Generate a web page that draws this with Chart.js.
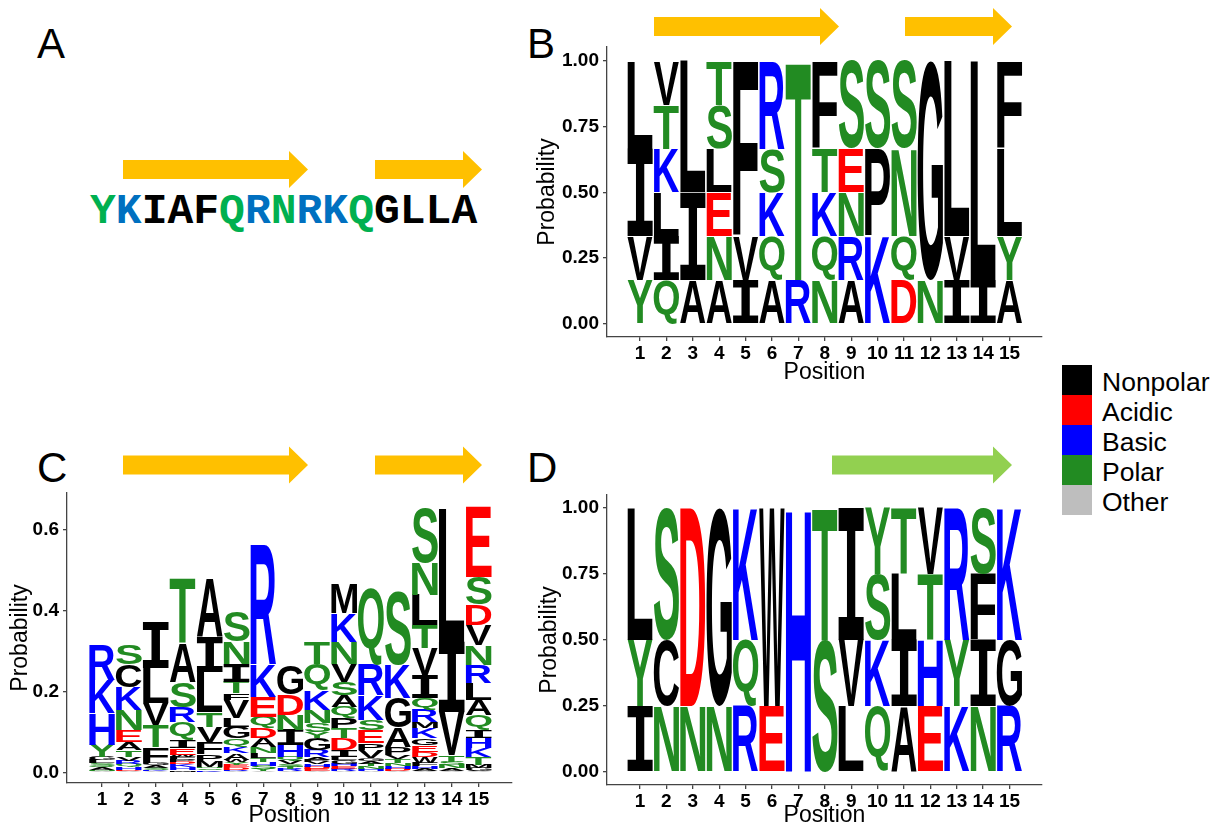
<!DOCTYPE html>
<html>
<head>
<meta charset="utf-8">
<title>Sequence logos</title>
<script src="https://cdn.jsdelivr.net/npm/chart.js@4.4.1/dist/chart.umd.min.js"></script>
<style>
  html, body { margin: 0; padding: 0; background: #fff; overflow: hidden; }
  #page { position: relative; width: 1212px; height: 826px; }
  #page canvas { position: absolute; }
  #overlay { position: absolute; left: 0; top: 0; }
</style>
</head>
<body>
<div id="page">
  <svg id="overlay" width="1212" height="826" xmlns="http://www.w3.org/2000/svg"></svg>
  <canvas id="logoB" width="540" height="400" style="left:520px;top:0px;width:540px;height:400px"></canvas>
  <canvas id="logoC" width="540" height="400" style="left:0px;top:450px;width:540px;height:400px"></canvas>
  <canvas id="logoD" width="540" height="400" style="left:520px;top:450px;width:540px;height:400px"></canvas>
</div>
<script>
// positions along the peptide
const positions = [1, 2, 3, 4, 5, 6, 7, 8, 9, 10, 11, 12, 13, 14, 15];

// residue groups and their colours
const groupNames = ['Nonpolar', 'Acidic', 'Basic', 'Polar', 'Other'];
const groupColors = ['#000000', '#FF0000', '#0000FF', '#228B22', '#BEBEBE'];
const groupResidues = ['AVLIPFMWGC', 'DE', 'KRH', 'STYNQ', 'X'];

// consensus sequence shown above the logos
const sequence = 'YKIAFQRNRKQGLLA';
const sequenceColors = ['#00B050', '#0070C0', '#000', '#000', '#000', '#00B050', '#0070C0',
  '#00B050', '#0070C0', '#0070C0', '#00B050', '#000', '#000', '#000', '#000'];

// logo B: letters per position, bottom to top, and their probabilities
const lettersB = ['YVIL', 'QILKTV', 'AIL', 'ANELST', 'IVF', 'AQKSR', 'RT', 'NQKTF',
  'ARNES', 'KPS', 'DQNS', 'NG', 'IVL', 'IL', 'AYLF'];
const probsB = [
  [0.1667, 0.1667, 0.3333, 0.3333],
  [0.1667, 0.1667, 0.1667, 0.1667, 0.1667, 0.1667],
  [0.1667, 0.3333, 0.5],
  [0.1667, 0.1667, 0.1667, 0.1667, 0.1667, 0.1667],
  [0.1667, 0.1667, 0.6667],
  [0.1667, 0.1667, 0.1667, 0.1667, 0.3333],
  [0.1667, 0.8333],
  [0.1667, 0.1667, 0.1667, 0.1667, 0.3333],
  [0.1667, 0.1667, 0.1667, 0.1667, 0.3333],
  [0.3333, 0.3333, 0.3333],
  [0.1667, 0.1667, 0.3333, 0.3333],
  [0.1667, 0.8333],
  [0.1667, 0.1667, 0.6667],
  [0.1667, 0.8333],
  [0.1667, 0.1667, 0.3333, 0.3333]
];

// logo C
const lettersC = ['XNAQSLGYHKR', 'XDHQRVTAENKCS', 'XKSAGFTVLI', 'XMHKDPFWEIQRSAT',
  'XKSNMPFVTLIA', 'XRDEYWAKQGLVFTINS', 'XYSHTLNADQEKR', 'XRTSVQHINDG',
  'XEDHVPARGYSNKQT', 'XREHGLIDTPQASVNKM', 'XHNTAGVPESKRQ', 'XDHNTVPAGKS',
  'XAHFWDEGKMRQIVTLNS', 'XANSTVIL', 'XGMTKHIQALRNVDSE'];
const probsC = [
  [0.004, 0.004, 0.005, 0.005, 0.006, 0.008, 0.008, 0.03, 0.078, 0.082, 0.086],
  [0.004, 0.004, 0.006, 0.008, 0.008, 0.01, 0.017, 0.02, 0.029, 0.05, 0.056, 0.055, 0.049],
  [0.004, 0.004, 0.005, 0.006, 0.006, 0.039, 0.055, 0.054, 0.086, 0.111],
  [0.003, 0.004, 0.007, 0.007, 0.006, 0.006, 0.006, 0.006, 0.017, 0.02, 0.043, 0.038, 0.062, 0.095, 0.16],
  [0.003, 0.004, 0.004, 0.004, 0.015, 0.015, 0.03, 0.039, 0.036, 0.10, 0.086, 0.144],
  [0.004, 0.004, 0.006, 0.006, 0.006, 0.006, 0.017, 0.015, 0.022, 0.028, 0.022, 0.044, 0.017, 0.028, 0.045, 0.054, 0.076],
  [0.004, 0.006, 0.008, 0.009, 0.01, 0.012, 0.015, 0.022, 0.025, 0.027, 0.05, 0.081, 0.294],
  [0.004, 0.005, 0.006, 0.007, 0.008, 0.01, 0.029, 0.037, 0.037, 0.05, 0.07],
  [0.004, 0.005, 0.006, 0.006, 0.006, 0.006, 0.006, 0.018, 0.029, 0.014, 0.023, 0.033, 0.049, 0.065, 0.054],
  [0.004, 0.006, 0.006, 0.007, 0.008, 0.009, 0.017, 0.029, 0.025, 0.025, 0.027, 0.03, 0.032, 0.045, 0.054, 0.071, 0.074],
  [0.004, 0.006, 0.006, 0.007, 0.007, 0.007, 0.02, 0.017, 0.032, 0.025, 0.062, 0.074, 0.188],
  [0.004, 0.006, 0.007, 0.007, 0.01, 0.01, 0.02, 0.047, 0.074, 0.082, 0.183],
  [0.004, 0.006, 0.007, 0.008, 0.015, 0.012, 0.017, 0.017, 0.025, 0.015, 0.03, 0.029, 0.057, 0.067, 0.056, 0.075, 0.079, 0.135],
  [0.004, 0.007, 0.008, 0.008, 0.017, 0.107, 0.173, 0.33],
  [0.004, 0.008, 0.008, 0.02, 0.022, 0.024, 0.02, 0.037, 0.037, 0.042, 0.045, 0.049, 0.049, 0.05, 0.069, 0.173]
];

// logo D
const lettersD = ['IYL', 'NCS', 'ND', 'NG', 'RQK', 'EW', 'H', 'ST', 'LVI', 'QKSY',
  'AILT', 'EHTV', 'KYR', 'NIFS', 'RGK'];
const probsD = [
  [0.25, 0.25, 0.5],
  [0.25, 0.25, 0.5],
  [0.25, 0.75],
  [0.25, 0.75],
  [0.25, 0.25, 0.5],
  [0.25, 0.75],
  [1.0],
  [0.5, 0.5],
  [0.25, 0.25, 0.5],
  [0.25, 0.25, 0.25, 0.25],
  [0.25, 0.25, 0.25, 0.25],
  [0.25, 0.25, 0.25, 0.25],
  [0.25, 0.25, 0.5],
  [0.25, 0.25, 0.25, 0.25],
  [0.25, 0.25, 0.5]
];

const residueColor = {};
groupResidues.forEach((res, g) => { for (const ch of res) residueColor[ch] = groupColors[g]; });

// ---- overlay: panel tags, arrows, sequence, legend ----
const svgNS = 'http://www.w3.org/2000/svg';
const svg = document.getElementById('overlay');
function el(tag, attrs, text) {
  const n = document.createElementNS(svgNS, tag);
  for (const k in attrs) n.setAttribute(k, attrs[k]);
  if (text !== undefined) n.textContent = text;
  svg.appendChild(n);
  return n;
}

[['A', 37, 58], ['B', 527, 58], ['C', 37, 482], ['D', 527, 482]].forEach(([t, x, y]) => {
  el('text', { x, y, 'font-family': 'Liberation Sans, Arial, sans-serif', 'font-size': 42, fill: '#000' }, t);
});

// arrows: start of shaft, start of head, tip, centre line, colour
const arrows = [
  [123, 289, 308, 169.5, '#FFC000'], [375, 463, 482, 169.5, '#FFC000'],
  [654, 820, 839, 26.5, '#FFC000'], [905, 993, 1012, 26.5, '#FFC000'],
  [123, 289, 308, 465, '#FFC000'], [375, 463, 482, 465, '#FFC000'],
  [832, 993, 1012, 465, '#92D050']
];
arrows.forEach(([x0, xh, xt, c, col]) => {
  const pts = [[x0, c - 9.5], [xh, c - 9.5], [xh, c - 18.5], [xt, c], [xh, c + 18.5], [xh, c + 9.5], [x0, c + 9.5]];
  el('polygon', { points: pts.map(p => p.join(',')).join(' '), fill: col });
});

const seqText = el('text', { x: 90, y: 223, 'font-family': 'Liberation Mono, Courier New, monospace',
  'font-weight': 'bold', 'font-size': 43 });
sequence.split('').forEach((ch, i) => {
  const t = document.createElementNS(svgNS, 'tspan');
  t.setAttribute('fill', sequenceColors[i]);
  t.textContent = ch;
  seqText.appendChild(t);
});

groupNames.forEach((name, g) => {
  el('rect', { x: 1062, y: 365 + g * 30, width: 30, height: 30, fill: groupColors[g] });
  el('text', { x: 1102, y: 391 + g * 30, 'font-family': 'Liberation Sans, Arial, sans-serif',
    'font-size': 26.5, fill: '#000' }, name);
});

// ---- letter glyphs stretched into each stacked bar ----
function drawGlyph(ctx, ch, left, top, w, h) {
  ctx.save();
  ctx.font = ch === 'I' ? '700 100px "DejaVu Sans Mono"' : '700 100px "Liberation Sans"';
  ctx.textAlign = 'left';
  ctx.textBaseline = 'alphabetic';
  const m = ctx.measureText(ch);
  const gl = m.actualBoundingBoxLeft, gr = m.actualBoundingBoxRight;
  const ga = m.actualBoundingBoxAscent, gd = m.actualBoundingBoxDescent;
  ctx.translate(left, top);
  ctx.scale(w / (gl + gr), h / (ga + gd));
  ctx.fillStyle = residueColor[ch];
  ctx.fillText(ch, gl, ga);
  ctx.restore();
}

const letterPlugin = {
  id: 'logoLetters',
  afterDatasetsDraw(chart) {
    const letters = chart.options.plugins.logoLetters.letters;
    const ctx = chart.ctx;
    chart.data.datasets.forEach((ds, k) => {
      chart.getDatasetMeta(k).data.forEach((bar, i) => {
        const ch = letters[i][k];
        if (!ch) return;
        const { x, y, base, width } = bar.getProps(['x', 'y', 'base', 'width'], true);
        const h = base - y;
        if (h <= 0.2) return;
        drawGlyph(ctx, ch, x - width / 2 + 0.5, y, width - 1, h);
      });
    });
  }
};

const axisColor = '#444';
const tickFont = { family: 'Liberation Sans, Arial, sans-serif', size: 19, weight: 'bold' };
const titleFont = { family: 'Liberation Sans, Arial, sans-serif', size: 23 };

function logoChart(id, letters, probs, geo) {
  const depth = Math.max(...letters.map(s => s.length));
  const datasets = [];
  for (let k = 0; k < depth; k++) {
    datasets.push({
      data: positions.map((p, i) => ({ x: p, y: probs[i][k] || 0 })),
      backgroundColor: 'rgba(0,0,0,0)',
      borderWidth: 0,
      barPercentage: 1,
      categoryPercentage: 1
    });
  }
  return new Chart(document.getElementById(id), {
    type: 'bar',
    data: { datasets },
    options: {
      responsive: false,
      animation: false,
      layout: { padding: { top: geo.top, right: geo.right, left: 0, bottom: 0 } },
      plugins: { legend: { display: false }, tooltip: { enabled: false }, logoLetters: { letters } },
      scales: {
        x: {
          type: 'linear', stacked: true, offset: false, min: geo.xMin, max: geo.xMax,
          afterBuildTicks: s => { s.ticks = positions.map(v => ({ value: v })); },
          afterFit: s => { s.height = geo.xHeight; },
          ticks: { font: tickFont, color: '#000', padding: 1, autoSkip: false, maxRotation: 0, callback: v => v },
          grid: { offset: false, drawOnChartArea: false, tickLength: 4, color: axisColor, lineWidth: 1.3 },
          border: { color: axisColor, width: 1.3 },
          title: { display: true, text: 'Position', font: titleFont, color: '#000', padding: { top: 0, bottom: geo.xTitlePad } }
        },
        y: {
          stacked: true, min: geo.yMin, max: geo.yMax,
          afterBuildTicks: s => { s.ticks = geo.yTicks.map(v => ({ value: v })); },
          afterFit: s => { s.width = geo.yWidth; },
          ticks: { font: tickFont, color: '#000', padding: geo.yTickPad, callback: v => v.toFixed(geo.digits) },
          grid: { drawOnChartArea: false, tickLength: 4, color: axisColor, lineWidth: 1.3 },
          border: { color: axisColor, width: 1.3 },
          title: { display: true, text: 'Probability', font: titleFont, color: '#000', padding: { top: geo.yTitlePad, bottom: 0 } }
        }
      }
    },
    plugins: [letterPlugin]
  });
}

logoChart('logoB', lettersB, probsB, {
  top: 47, right: 18, xHeight: 63, yWidth: 87, xMin: -0.25, xMax: 16.23,
  yMin: -0.05, yMax: 1.053, yTicks: [0, 0.25, 0.5, 0.75, 1], digits: 2,
  yTickPad: 4, xTitlePad: 14, yTitlePad: 14
});
logoChart('logoC', lettersC, probsC, {
  top: 43, right: 28, xHeight: 67, yWidth: 67, xMin: -0.3, xMax: 16.24,
  yMin: -0.025, yMax: 0.691, yTicks: [0, 0.2, 0.4, 0.6], digits: 1,
  yTickPad: 4, xTitlePad: 21, yTitlePad: 7
});
logoChart('logoD', lettersD, probsD, {
  top: 45, right: 18, xHeight: 65, yWidth: 87, xMin: -0.25, xMax: 16.23,
  yMin: -0.049, yMax: 1.049, yTicks: [0, 0.25, 0.5, 0.75, 1], digits: 2,
  yTickPad: 4, xTitlePad: 21, yTitlePad: 16
});
</script>
</body>
</html>
